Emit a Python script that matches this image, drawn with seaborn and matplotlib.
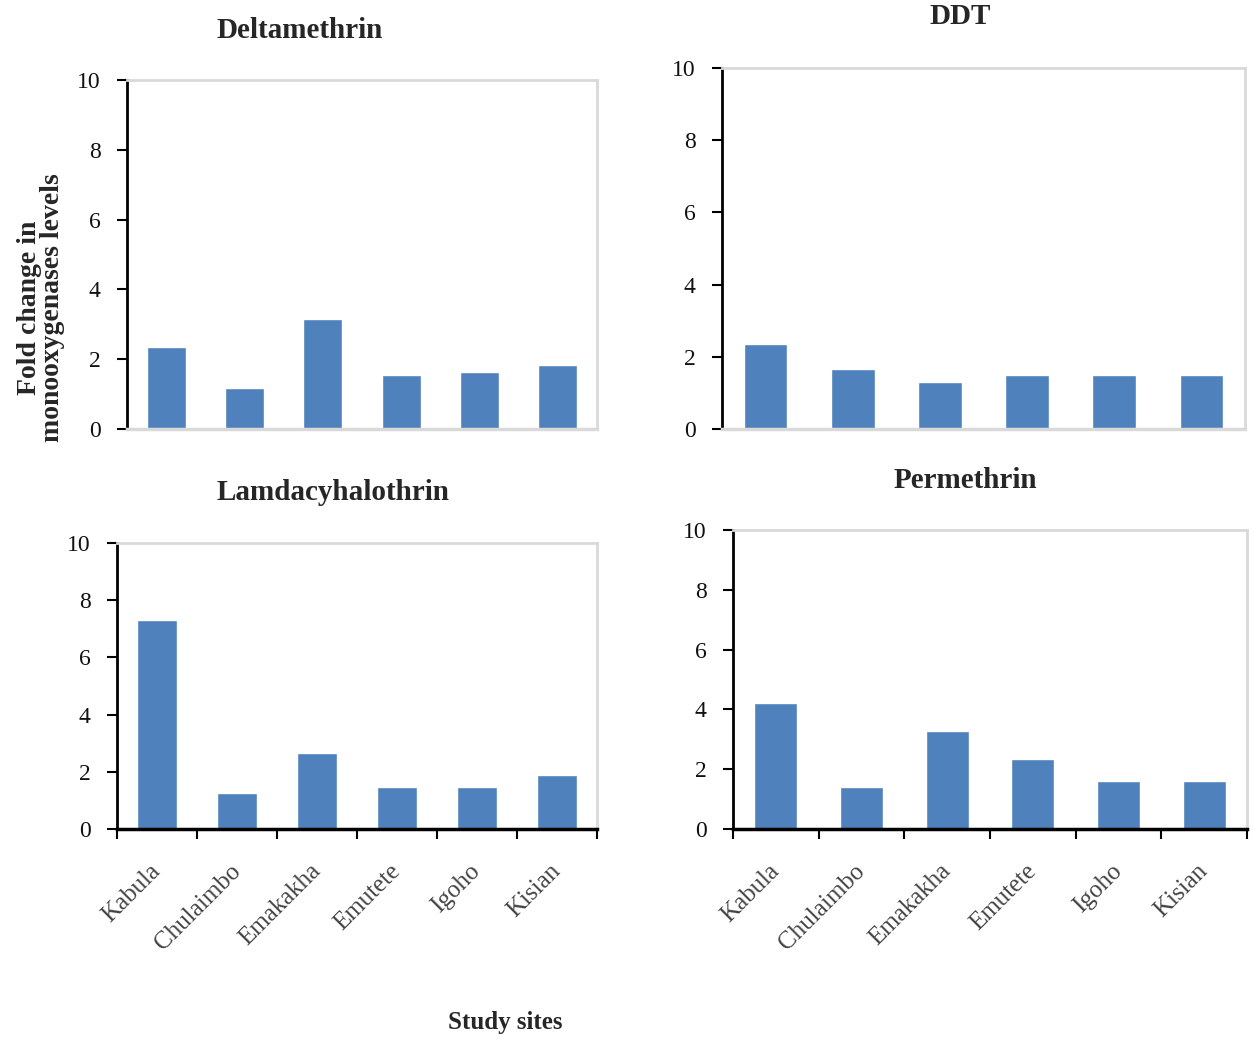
import matplotlib
matplotlib.use("Agg")
import matplotlib.pyplot as plt
import seaborn as sns
import pandas as pd

# data
sites = ["Kabula", "Chulaimbo", "Emakakha", "Emutete", "Igoho", "Kisian"]
deltamethrin = [2.36, 1.18, 3.16, 1.56, 1.64, 1.82]
ddt = [2.36, 1.67, 1.31, 1.50, 1.50, 1.50]
lamdacyhalothrin = [7.32, 1.26, 2.66, 1.47, 1.47, 1.89]
permethrin = [4.21, 1.40, 3.28, 2.34, 1.60, 1.60]
y_ticks = [0, 2, 4, 6, 8, 10]

sns.set_theme(style="white")
plt.rcParams['font.family'] = ['Liberation Serif', 'DejaVu Serif']

BAR = "#4F81BD"
GREY = "#D9D9D9"
W, H = 1253, 1042

fig = plt.figure(figsize=(W / 100, H / 100), dpi=100)


def rect(x0, x1, y_top, y_bot):
    return [x0 / W, 1 - y_bot / H, (x1 - x0) / W, (y_bot - y_top) / H]


panels = [
    ("Deltamethrin", deltamethrin, rect(127, 597, 80, 429), (300, 30), False),
    ("DDT", ddt, rect(722, 1245, 68, 429), (960, 17), False),
    ("Lamdacyhalothrin", lamdacyhalothrin, rect(117, 597, 543, 829), (333, 492), True),
    ("Permethrin", permethrin, rect(733, 1247, 530, 829), (965, 480), True),
]

for title, vals, r, tpos, bottom_row in panels:
    ax = fig.add_axes(r)
    df = pd.DataFrame({"site": sites, "value": vals})
    sns.barplot(data=df, x="site", y="value", color=BAR, width=0.5,
                saturation=1, ax=ax)
    ax.set_xlim(-0.5, 5.5)
    ax.set_ylim(0, 10)
    ax.set_xlabel("")
    ax.set_ylabel("")
    ax.set_yticks(y_ticks)
    ax.set_yticklabels([str(t) for t in y_ticks], fontsize=17)
    ax.tick_params(axis="y", direction="out", length=7, width=1.5,
                   color="black", pad=12, left=True, labelcolor="#111111")
    for s in ["top", "right"]:
        ax.spines[s].set_color(GREY)
        ax.spines[s].set_linewidth(2)
    ax.spines["left"].set_color("black")
    ax.spines["left"].set_linewidth(2)
    if bottom_row:
        ax.spines["bottom"].set_color("black")
        ax.spines["bottom"].set_linewidth(2.5)
        ax.set_xticks([i - 0.5 for i in range(7)])
        ax.set_xticklabels([])
        ax.tick_params(axis="x", which="major", direction="out", length=7,
                       width=1.5, color="black", bottom=True)
        ax.set_xticks(range(6), minor=True)
        ax.set_xticklabels(sites, minor=True, rotation=45, ha="right",
                           va="center", rotation_mode="anchor",
                           fontsize=18, color="#444444")
        ax.tick_params(axis="x", which="minor", length=0, pad=28)
    else:
        ax.spines["bottom"].set_color(GREY)
        ax.spines["bottom"].set_linewidth(2.5)
        ax.set_xticks([])
    fig.text(tpos[0] / W, 1 - tpos[1] / H, title, ha="center", va="center",
             fontsize=21, fontweight="bold")

fig.text(41 / W, 1 - 308 / H, "Fold change in\nmonooxygenases levels",
         rotation=90, ha="center", va="center", fontsize=20,
         fontweight="bold", linespacing=0.9)
fig.text(505 / W, 1 - 1022 / H, "Study sites", ha="center", va="center",
         fontsize=18, fontweight="bold")

fig.savefig("out.png", dpi=100)
